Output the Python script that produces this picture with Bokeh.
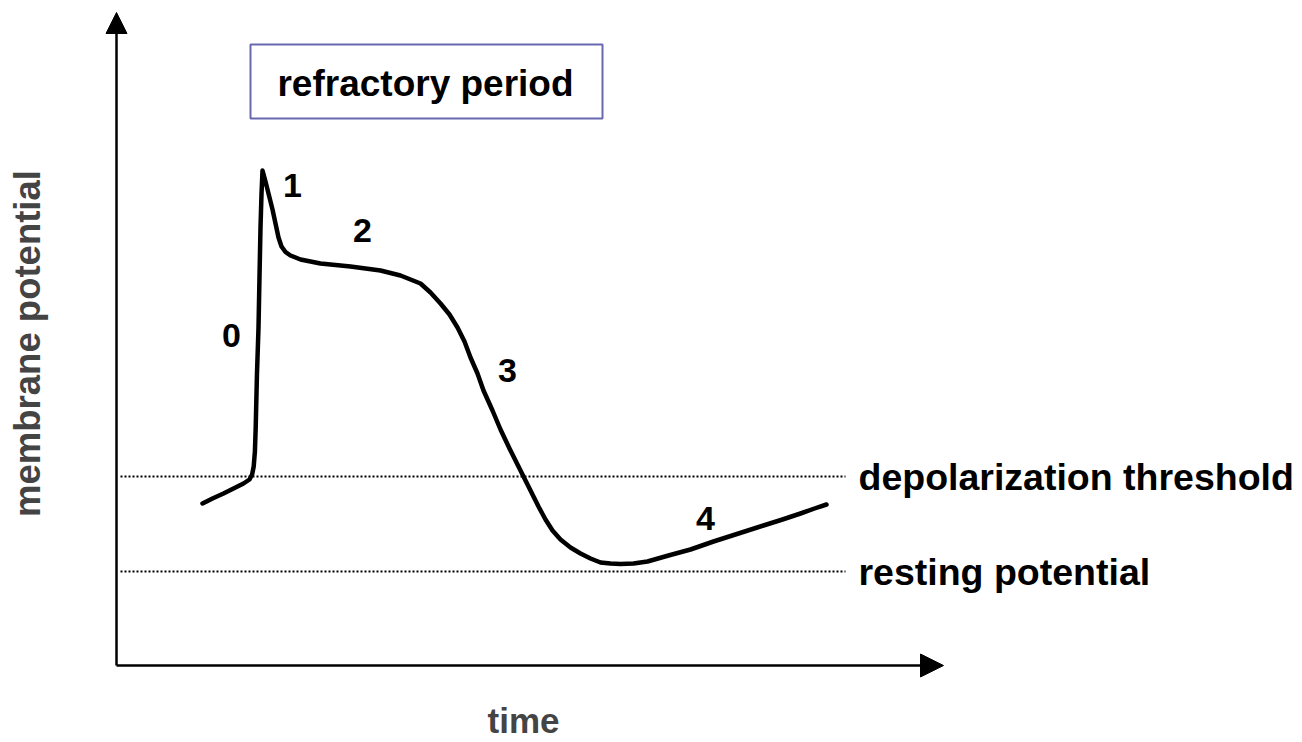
from math import pi
from bokeh.plotting import figure
from bokeh.models import Range1d, Arrow, NormalHead, Label, ColumnDataSource
from bokeh.core.properties import value
from bokeh.embed import file_html
from bokeh.resources import INLINE

# Action potential trace: time (ms) and membrane potential (mV)
time_ms = [43, 48, 53.5, 58.5, 63.5, 66.5, 67.8, 68.6, 69.2, 69.6, 70.2, 71, 71.5, 72,
           72.5, 73, 74.5, 76, 78, 79.5, 81, 82.5, 84.5, 87, 92, 102, 117, 132, 142,
           152, 157, 162, 166.5, 170.5, 174, 177, 180.5, 183.5, 188, 192, 196.5,
           200.5, 204, 207.5, 211, 214.5, 218, 222, 227, 232, 237, 242, 247, 252,
           258.5, 265.5, 276, 287, 298.5, 311, 323.5, 333, 342, 349, 355]
potential_mv = [-76.4, -75.4, -74.4, -73.4, -72.4, -71.6, -70.6, -69.0, -66.0, -61.2,
                -51.0, -41.2, -31.0, -21.2, -14.5, -9.8, -12.0, -14.4, -17.6, -20.4,
                -23.2, -25.0, -26.1, -26.8, -27.6, -28.4, -29.0, -29.8, -30.8,
                -32.4, -34.2, -36.4, -38.6, -41.2, -44.0, -47.2, -50.4, -53.8,
                -57.8, -61.6, -65.4, -68.6, -71.4, -74.2, -77.0, -79.6, -81.8,
                -83.6, -85.2, -86.4, -87.4, -88.2, -88.4, -88.5, -88.4, -88.0,
                -86.8, -85.6, -84.0, -82.4, -80.8, -79.6, -78.4, -77.4, -76.6]

phase_labels = ["0", "1", "2", "3", "4"]
phase_t = [57.5, 88, 123, 195.5, 294.5]
phase_v = [-42.8, -12.8, -21.8, -49.8, -79.4]

level_names = ["depolarization threshold", "resting potential"]
level_values = [-71.0, -90.0]

title_text = "refractory period"
x_label = "time"
y_label = "membrane potential"

FONT = "Liberation Sans"

p = figure(width=1300, height=740, output_backend="svg", toolbar_location=None,
           x_range=Range1d(-58, 592), y_range=Range1d(-123.8, 24.2),
           x_axis_type=None, y_axis_type=None, min_border=0,
           background_fill_color="white", border_fill_color="white")
p.outline_line_color = None
p.grid.visible = False

# axes drawn as arrows
p.add_layout(Arrow(end=NormalHead(size=21, fill_color="black", line_color="black"),
                   x_start=0, y_start=-108.8, x_end=0, y_end=21.8,
                   line_color="black", line_width=2.5))
p.add_layout(Arrow(end=NormalHead(size=23, fill_color="black", line_color="black"),
                   x_start=0, y_start=-108.8, x_end=413.5, y_end=-108.8,
                   line_color="black", line_width=2.5))

# dotted reference levels
for lv in level_values:
    p.line([2, 364.5], [lv, lv], line_color="black", line_width=2, line_dash="2 2")

p.text(x=[371, 371], y=level_values, text=level_names,
       text_font=value(FONT), text_font_style="bold", text_font_size="37.5px",
       text_align="left", text_baseline="middle", text_color="black")

# action potential curve
src = ColumnDataSource(dict(t=time_ms, v=potential_mv))
p.line("t", "v", source=src, line_color="black", line_width=4.5,
       line_join="round", line_cap="round")

# phase numbers
p.text(x=phase_t, y=phase_v, text=phase_labels,
       text_font=value(FONT), text_font_style="bold", text_font_size="34px",
       text_align="center", text_baseline="middle", text_color="black")

# refractory period box
p.quad(left=[67], right=[243], bottom=[0.6], top=[15.4],
       fill_color="white", line_color="#6868b0", line_width=2)
p.text(x=[154.5], y=[7.6], text=[title_text],
       text_font=value(FONT), text_font_style="bold", text_font_size="37px",
       text_align="center", text_baseline="middle", text_color="black")

# axis titles
p.add_layout(Label(x=203.5, y=-119.8, text=x_label, text_font=FONT,
                   text_font_style="bold", text_font_size="35px",
                   text_align="center", text_baseline="middle"))
p.add_layout(Label(x=-44.5, y=-44.4, text=y_label, text_font=FONT, angle=pi / 2,
                   text_font_style="bold", text_font_size="36.5px",
                   text_align="center", text_baseline="middle"))

open("out.html", "w").write(file_html(p, INLINE))
